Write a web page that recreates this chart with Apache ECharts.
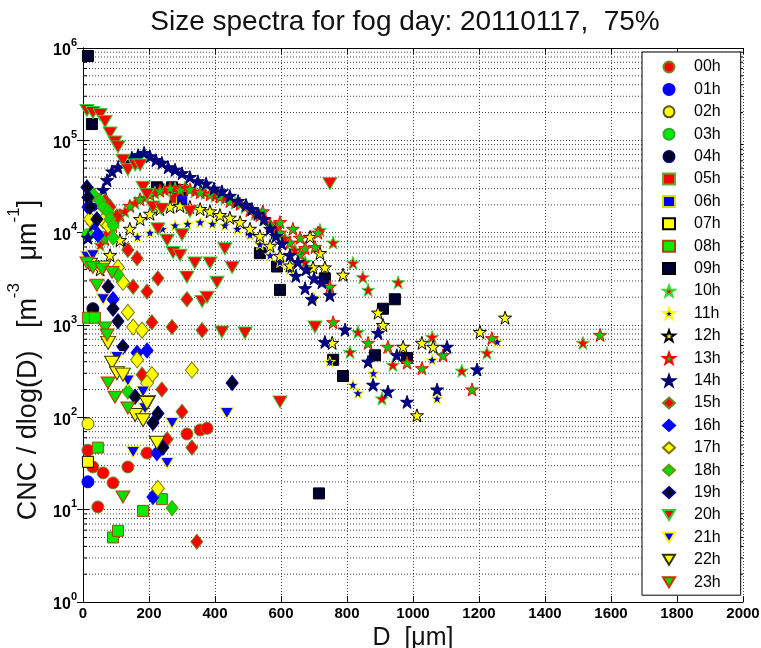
<!DOCTYPE html>
<html>
<head>
<meta charset="utf-8">
<title>Size spectra for fog day: 20110117</title>
<script src="https://cdn.jsdelivr.net/npm/echarts@6/dist/echarts.min.js"></script>
<style>
  html, body { margin: 0; padding: 0; background: #ffffff; }
  #chart { width: 761px; height: 648px; }
</style>
</head>
<body>
<div id="chart"></div>
<script>
// Hourly size spectra, [D (µm), CNC / dlog(D) (m^-3 µm^-1)]
const hours = ['00h','01h','02h','03h','04h','05h','06h','07h','08h','09h','10h','11h',
               '12h','13h','14h','15h','16h','17h','18h','19h','20h','21h','22h','23h'];

const h00 = [[15,44],[30,29],[61,25],[91,19.5],[45,10.7],[136,29],[194,41],[315,66],[355,73],[376,76]];
const h01 = [[15,20]];
const h02 = [[15,85]];
const h03 = [[15,9500]];
const h04 = [[30,1500],[233,30000],[285,29000]];
const h05 = [[280,24000]];
const h06 = [[300,22000]];
const h07 = [[15,33]];
const h08 = [[15,1200],[36,1200],[45,47],[239,13],[182,9.7],[91,5],[106,5.9]];
const h09 = [[15,820000],[27,150000],[224,31000],[270,31000],[300,29000],[536,6000],[588,4300],[597,2400],
             [733,3200],[758,420],[788,280],[885,470],[909,1500],[945,1900],[982,440],[715,15]];
const h10 = [[52,7400],[76,10000],[97,13000],[127,17000],[158,21000],[188,24000],[218,27000],[248,29000],
             [279,30000],[309,31000],[339,28000],[370,27000],[400,25000],[430,23500],[461,21000],[491,19000],
             [521,16000],[551,14000],[582,11000],[612,8700],[642,6500],[673,4800],
             [718,10700],[758,7800],[818,4700],[848,3300],[864,2400],[955,2900],[1058,740],[1148,320],
             [1224,500],[1515,640],[906,160],[939,370],[809,510],[833,840]];
const h11 = [[127,7400],[165,9000],[203,10000],[241,11000],[279,12000],[317,12500],[355,13000],[392,12500],
             [430,12000],[468,11000],[506,9500],[536,7500],[567,5700],[597,4800],[627,4000],[700,2000],
             [748,400],[818,225],[833,183],[880,300],[1073,160],[1058,420],[1255,660]];
const h12 = [[52,4000],[82,5700],[112,8300],[142,11000],[173,14000],[203,16000],[233,18000],[264,19000],
             [294,19500],[324,19000],[355,18000],[385,17000],[415,15500],[445,14500],[476,13000],[506,11000],
             [536,9200],[567,7200],[597,5600],[627,4400],[567,12000],[582,10000],[688,9000],[718,6000],
             [697,4200],[733,4200],[788,3500],[1279,1200],[1203,840],[1027,640],[1061,580],[970,580],
             [1012,105],[894,1360],[755,640],[909,1000]];
const h13 = [[66,8500],[90,12000],[112,15500],[142,19500],[173,23000],[203,26000],[233,28500],[264,30500],
             [294,29000],[324,29500],[355,27500],[385,26000],[415,24500],[445,22000],[476,20500],[506,17500],
             [536,15500],[567,12500],[597,10000],[627,7800],[658,5800],
             [545,17000],[597,13000],[636,11000],[712,10000],[658,8800],[673,6800],[703,7000],[748,2600],
             [1027,340],[1179,200],[1239,720],[1567,780],[982,390],[1091,470],[864,640],[924,580],[758,1070]];
const h14 = [[15,8800],[30,12000],[45,20000],[61,29000],[73,37000],[88,46000],[106,51000],[127,58000],
             [148,65000],[167,69000],[185,73000],[203,67000],[221,61000],[239,57000],[258,51000],[279,48000],
             [300,44000],[324,40000],[348,36000],[373,34000],[397,30000],[421,28000],[445,25000],[470,22000],
             [494,20000],[512,18000],[530,16000],[548,14000],[567,11000],[585,9200],[603,7600],[627,5700],
             [645,3400],[651,4800],[673,2500],[676,4000],[694,1900],[700,3200],[724,2900],[748,2100],
             [733,655],[864,400],[879,225],[951,470],[982,147],[1073,200],[1103,580],[1194,330],[794,890],
             [894,820],[924,190]];
const h15 = [[67,22000],[82,19000],[103,15000],[136,6500],[164,5300],[227,3200],[152,2600],[194,2300],
             [315,1900],[209,1070],[270,950],[361,880],[179,290],[239,200],[300,115],[255,58],[330,47],[345,4.5]];
const h16 = [[15,19000],[36,13000],[45,9500],[91,1900],[164,500],[194,530],[212,13.7],[224,41]];
const h17 = [[21,14000],[61,13500],[76,12000],[106,4200],[121,2900],[136,1370],[152,950],[179,880],
             [164,420],[330,325],[209,290],[194,235],[227,17]];
const h18 = [[30,26000],[52,22000],[61,19000],[76,17000],[82,14000],[91,12000],[91,8800],[106,3500],[136,190],[270,10.4]];
const h19 = [[12,31000],[15,24000],[21,19000],[42,14000],[76,2600],[91,1500],[106,1100],[121,580],
             [158,167],[227,110],[452,236],[212,87],[242,47]];
const h20 = [[12,210000],[30,200000],[52,190000],[67,160000],[82,120000],[97,96000],[106,85000],[121,61000],
             [136,48000],[158,54000],[173,54000],[182,31000],[194,26000],[212,19000],[239,18000],[227,11000],
             [255,8300],[300,9500],[273,6100],[294,5700],[324,17000],[339,4700],[385,4700],[430,6700],
             [452,4200],[315,3300],[406,2900],[361,1800],[376,2000],[421,840],[491,820],[703,950],[597,147],[748,34000]];
const h21 = [[12,5500],[30,5700],[61,1900],[103,450],[136,250],[182,190],[152,42],[255,32],[270,87],[436,111],[188,125]];
const h22 = [[21,4500],[61,4200],[76,640],[88,390],[103,300],[121,290],[197,147],[158,106],[182,93],[224,53],[194,143]];
const h23 = [[12,4700],[30,4200],[58,4000],[88,3700],[42,2700],[67,930],[73,780],[76,235],[97,165],[136,126],[121,13.7]];

const seriesData = [h00,h01,h02,h03,h04,h05,h06,h07,h08,h09,h10,h11,h12,h13,h14,h15,h16,h17,h18,h19,h20,h21,h22,h23];

// axis ranges and tick labels
const xTicks = [0,200,400,600,800,1000,1200,1400,1600,1800,2000];
const yExponents = [0,1,2,3,4,5,6];

const STAR = 'path://M50,2 L61.8,36.2 L97.6,36.2 L68.8,57.6 L79.4,92 L50,71 L20.6,92 L31.2,57.6 L2.4,36.2 L38.2,36.2 Z';
const TRI_DOWN = 'path://M0,0 L12,0 L6,10 Z';

// marker face / edge per hour
const markerStyles = [
  { symbol: 'circle',  size: 12, face: '#ff0000', edge: '#6b8e23' },
  { symbol: 'circle',  size: 12, face: '#0000ff', edge: '#0000ff' },
  { symbol: 'circle',  size: 12, face: '#ffff00', edge: '#555522' },
  { symbol: 'circle',  size: 12, face: '#00ee00', edge: '#33aa33' },
  { symbol: 'circle',  size: 12, face: '#000022', edge: '#000066' },
  { symbol: 'rect',    size: 11, face: '#ff0000', edge: '#66aa33' },
  { symbol: 'rect',    size: 11, face: '#0000ff', edge: '#dddd00' },
  { symbol: 'rect',    size: 11, face: '#ffff00', edge: '#000000' },
  { symbol: 'rect',    size: 11, face: '#00ee00', edge: '#aa4411' },
  { symbol: 'rect',    size: 11, face: '#000033', edge: '#000000' },
  { symbol: STAR,      size: 13, face: '#ff0000', edge: '#33dd33' },
  { symbol: STAR,      size: 11, face: '#0000cc', edge: '#ffff00' },
  { symbol: STAR,      size: 13, face: '#ffff00', edge: '#000000' },
  { symbol: STAR,      size: 13, face: '#00cc00', edge: '#ff0000' },
  { symbol: STAR,      size: 13, face: '#000088', edge: '#000066' },
  { symbol: 'diamond', size: [12, 15], face: '#ff0000', edge: '#668822' },
  { symbol: 'diamond', size: [12, 15], face: '#0000ff', edge: '#0000ff' },
  { symbol: 'diamond', size: [13, 16], face: '#ffff00', edge: '#777700' },
  { symbol: 'diamond', size: [12, 15], face: '#00dd00', edge: '#669900' },
  { symbol: 'diamond', size: [12, 15], face: '#000022', edge: '#000088' },
  { symbol: 'triangle', size: [14, 12], face: '#ff0000', edge: '#33cc33', rotate: 180 },
  { symbol: 'triangle', size: [13, 11], face: '#0000ff', edge: '#ffff00', rotate: 180 },
  { symbol: 'triangle', size: [15, 13], face: '#ffff00', edge: '#333300', rotate: 180 },
  { symbol: 'triangle', size: [14, 12], face: '#00dd00', edge: '#cc3300', rotate: 180 }
];

const FONT = '"Liberation Sans", Arial, Helvetica, sans-serif';
const DOTTED = { color: '#444', width: 1, type: [1, 2] };

// minor decade positions 2..9 × 10^k for the log grid
const minorValues = [];
yExponents.slice(0, -1).forEach(function (e) {
  for (let m = 2; m <= 9; m++) minorValues.push(m * Math.pow(10, e));
});

const scatterSeries = hours.map(function (h, i) {
  const st = markerStyles[i];
  return {
    name: h,
    type: 'scatter',
    data: seriesData[i],
    symbol: st.symbol,
    symbolSize: st.size,
    symbolRotate: st.rotate || 0,
    itemStyle: { color: st.face, borderColor: st.edge, borderWidth: 1, opacity: 1 },
    emphasis: { disabled: true },
    z: 3
  };
});

// legend entries; downward triangles get an explicit icon
const legendItems = hours.map(function (h, i) {
  return markerStyles[i].rotate ? { name: h, icon: TRI_DOWN } : { name: h };
});

const minorGrid = {
  type: 'custom',
  name: 'minor grid',
  silent: true,
  z: 1,
  xAxisIndex: 0,
  yAxisIndex: 0,
  data: minorValues.map(function (v) { return [0, v]; }),
  renderItem: function (params, api) {
    const v = api.value(1);
    const a = api.coord([xTicks[0], v]);
    const b = api.coord([xTicks[xTicks.length - 1], v]);
    return {
      type: 'group',
      children: [
        { type: 'line', shape: { x1: a[0], y1: a[1], x2: b[0], y2: b[1] },
          style: { stroke: '#444', lineWidth: 1, lineDash: [1, 2] } },
        { type: 'line', shape: { x1: a[0], y1: a[1], x2: a[0] + 4, y2: a[1] },
          style: { stroke: '#000', lineWidth: 1 } },
        { type: 'line', shape: { x1: b[0] - 4, y1: b[1], x2: b[0], y2: b[1] },
          style: { stroke: '#000', lineWidth: 1 } }
      ]
    };
  }
};

const chart = echarts.init(document.getElementById('chart'), null, { renderer: 'canvas' });

chart.setOption({
  animation: false,
  backgroundColor: '#ffffff',
  title: {
    text: 'Size spectra for fog day: 20110117,  75%',
    left: 400, top: 3, textAlign: 'center',
    textStyle: { fontFamily: FONT, fontSize: 28, fontWeight: 'normal', color: '#111' }
  },
  grid: { left: 83, right: 18, top: 48, bottom: 46, containLabel: false, outerBoundsMode: 'none' },
  legend: {
    data: legendItems,
    orient: 'vertical',
    left: 642, top: 52,
    itemWidth: 12, itemHeight: 11, itemGap: 6.4,
    padding: [7, 20, 5, 20],
    backgroundColor: '#ffffff',
    borderColor: '#000', borderWidth: 1,
    selectedMode: false,
    textStyle: { fontFamily: FONT, fontSize: 16, color: '#000', lineHeight: 16, padding: [0, 0, 0, 14] }
  },
  xAxis: [
    {
      type: 'value', min: xTicks[0], max: xTicks[xTicks.length - 1], interval: 200,
      name: 'D  [\u03bcm]', nameLocation: 'middle', nameGap: 20,
      nameTextStyle: { fontFamily: FONT, fontSize: 25, color: '#111' },
      axisLine: { show: true, lineStyle: { color: '#000', width: 1 } },
      axisTick: { show: true, inside: true, length: 6, lineStyle: { color: '#000' } },
      axisLabel: {
        fontFamily: FONT, fontSize: 15, fontWeight: 'bold', color: '#000', margin: 4,
        formatter: function (v) { return String(v); }
      },
      splitLine: { show: true, lineStyle: DOTTED }
    },
    {
      type: 'value', position: 'top', min: xTicks[0], max: xTicks[xTicks.length - 1], interval: 200,
      axisLine: { show: true, lineStyle: { color: '#000', width: 1 } },
      axisTick: { show: true, inside: true, length: 6, lineStyle: { color: '#000' } },
      axisLabel: { show: false },
      splitLine: { show: false }
    }
  ],
  yAxis: [
    {
      type: 'log', logBase: 10,
      min: Math.pow(10, yExponents[0]), max: Math.pow(10, yExponents[yExponents.length - 1]),
      splitNumber: 6,
      name: '{n|CNC / dlog(D)   [m}{s|-3}{n|   \u03bcm}{s|-1}{n|]}',
      nameLocation: 'middle', nameGap: 36,
      nameTextStyle: {
        fontFamily: FONT, color: '#111', padding: [0, 70, 0, 0],
        rich: {
          n: { fontFamily: FONT, fontSize: 27, color: '#111', lineHeight: 36, verticalAlign: 'bottom' },
          s: { fontFamily: FONT, fontSize: 17, color: '#111', lineHeight: 17, verticalAlign: 'top' }
        }
      },
      axisLine: { show: true, lineStyle: { color: '#000', width: 1 } },
      axisTick: { show: true, inside: true, length: 6, lineStyle: { color: '#000' } },
      axisLabel: {
        margin: 6,
        formatter: function (v) { return '{b|10}{s|' + Math.round(Math.log10(v)) + '}'; },
        rich: {
          b: { fontFamily: FONT, fontSize: 16, fontWeight: 'bold', color: '#000', lineHeight: 22, verticalAlign: 'bottom' },
          s: { fontFamily: FONT, fontSize: 11, fontWeight: 'bold', color: '#000', lineHeight: 10, verticalAlign: 'top' }
        }
      },
      splitLine: { show: true, lineStyle: DOTTED },
      minorTick: { show: false },
      minorSplitLine: { show: false }
    },
    {
      type: 'log', logBase: 10, position: 'right',
      min: Math.pow(10, yExponents[0]), max: Math.pow(10, yExponents[yExponents.length - 1]),
      splitNumber: 6,
      axisLine: { show: true, lineStyle: { color: '#000', width: 1 } },
      axisTick: { show: true, inside: true, length: 6, lineStyle: { color: '#000' } },
      axisLabel: { show: false },
      splitLine: { show: false }
    }
  ],
  series: [minorGrid].concat(scatterSeries)
});
</script>
</body>
</html>
